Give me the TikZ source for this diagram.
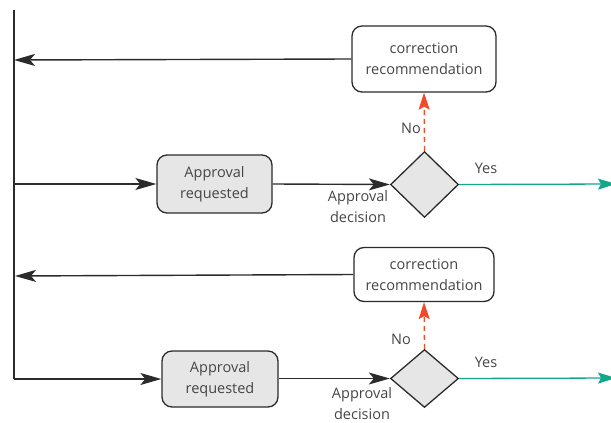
\documentclass[tikz,border=0pt]{standalone}
\usepackage{fontspec}
\setmainfont{Open Sans}
\usetikzlibrary{arrows.meta,shapes.geometric}
\definecolor{txt}{HTML}{454545}
\definecolor{edge}{HTML}{2B2B2B}
\definecolor{boxfill}{HTML}{E6E6E6}
\definecolor{nored}{HTML}{F04A2A}
\definecolor{yesgreen}{HTML}{14A88A}
\tikzset{
  every node/.style={font=\fontsize{14.5}{21}\selectfont, text=txt, align=center},
  corrbox/.style={draw=edge, line width=1.3pt, rounded corners=10pt, fill=white,
    minimum width=144pt, minimum height=66pt, inner sep=0pt},
  reqbox/.style={draw=edge, line width=1.3pt, rounded corners=10pt, fill=boxfill,
    minimum width=115pt, minimum height=58pt, inner sep=0pt},
  decbox/.style={diamond, draw=edge, line width=1.3pt, fill=boxfill,
    minimum width=68pt, minimum height=66pt, inner sep=0pt},
  flow/.style={draw=edge, line width=1.4pt, -{Stealth[length=21pt,width=12pt,inset=5pt]}},
  noflow/.style={draw=nored, line width=1.3pt, dashed, dash pattern=on 5pt off 4pt,
    -{Stealth[length=17pt,width=11pt,inset=3pt]}},
  yesflow/.style={draw=yesgreen, line width=1.3pt, -{Stealth[length=18pt,width=11pt,inset=3pt]}},
  lbl/.style={inner sep=0pt}
}
\begin{document}
\begin{tikzpicture}[x=1pt,y=-1pt]
\useasboundingbox (0,0) rectangle (611,423);

% first round
\node[corrbox] (c1) at (424,59) {correction\\recommendation};
\node[decbox] (d1) at (424.5,184.5) {};
\node[reqbox] (r1) at (214.5,184) {Approval\\requested};

% second round
\node[corrbox, minimum width=140pt, minimum height=54pt] (c2) at (424,274.5) {correction\\recommendation};
\node[decbox, minimum height=58pt] (d2) at (424.5,378.5) {};
\node[reqbox, minimum width=116pt, minimum height=56pt] (r2) at (220,379) {Approval\\requested};

% left trunk
\coordinate (top) at (14,10);
\coordinate (corner) at (14,379);
\coordinate (back1) at (14,60);
\coordinate (back2) at (15,276);
\coordinate (go1) at (14,184);
\coordinate (out1) at (616,184);
\coordinate (out2) at (616,378);

\draw[edge, line width=1.6pt] (top) -- (corner);
\draw[flow] (corner) -- (r2.west);
\draw[flow] (go1) -- (r1.west);
\draw[flow] (c1.west) -- (back1);
\draw[flow] (c2.west) -- (back2);
\draw[flow] (r1.east) -- (d1.west);
\draw[flow] (r2.east |- d2.west) -- (d2.west);

% decisions
\draw[noflow] (d1.north) -- (c1.south);
\draw[noflow] (d2.north) -- (c2.south);
\draw[yesflow] (d1.east) -- (out1);
\draw[yesflow] (d2.east) -- (out2);

% labels
\node[lbl] (no1) at (411,128) {No};
\node[lbl] (yes1) at (486,168) {Yes};
\node[lbl] (ad1) at (358,207) {Approval\\decision};
\node[lbl] (no2) at (401,339) {No};
\node[lbl] (yes2) at (486,362) {Yes};
\node[lbl] (ad2) at (362,403.5) {Approval\\decision};
\end{tikzpicture}
\end{document}
